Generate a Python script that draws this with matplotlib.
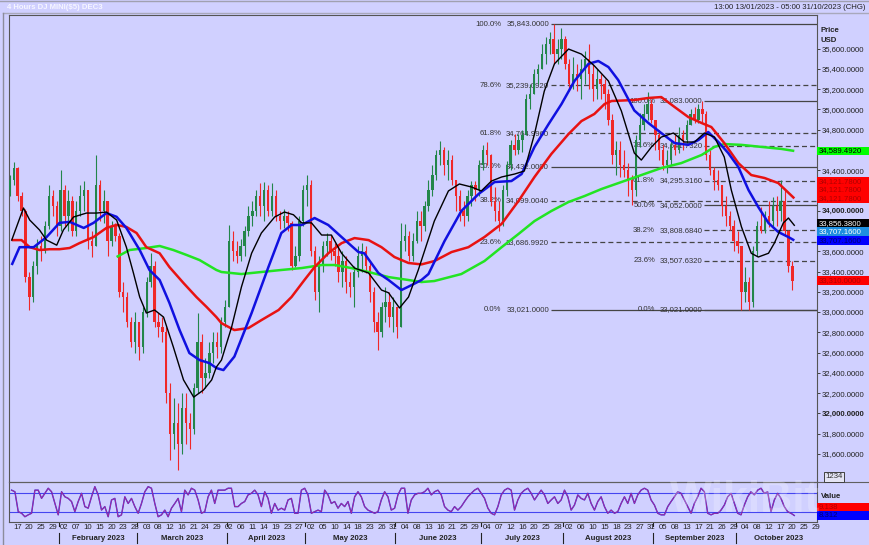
import numpy as np
import matplotlib
matplotlib.use("Agg")
import matplotlib.pyplot as plt
import matplotlib.transforms as mtransforms
from matplotlib.patches import Rectangle
from matplotlib.lines import Line2D

plt.rcParams['font.family'] = ['Liberation Sans', 'DejaVu Sans']

# ---------------- data (daily candles, one per trading day from 13 Jan 2023) ----------------
start_date = '2023-01-13'
first_open = 34200
close = [34300, 34420, 34150, 34000, 33350, 33150, 33450, 33650, 33600, 33850,
         34150, 34050, 33850, 34200, 33950, 34100, 33800, 34000, 34150, 34200,
         33700, 33650, 34250, 34000, 34100, 33700, 33850, 33750, 33200, 33150,
         32900, 32700, 32900, 32650, 33000, 33300, 33450, 32900, 32850, 32800,
         32200, 31800, 31900, 31700, 32050, 31900, 31850, 32250, 32700, 32350,
         32400, 32600, 32700, 32650, 32900, 33050, 33700, 33600, 33550, 33650,
         33800, 33950, 34000, 34150, 34050, 34200, 34000, 34150, 33950, 33900,
         33950, 33880, 33450, 33550, 33900, 34200, 34250, 33600, 33200, 33450,
         33650, 33700, 33600, 33550, 33400, 33500, 33300, 33250, 33400, 33550,
         33600, 33450, 33200, 32900, 32800, 33050, 33100, 32950, 33050, 32850,
         33700, 33750, 33550, 33700, 33900, 33850, 34050, 34200, 34350, 34550,
         34600, 34450, 34500, 34300, 34150, 34000, 33950, 34150, 34250, 34200,
         34450, 34600, 34550, 34100, 34000, 33900, 34200, 34450, 34650, 34600,
         34700, 34750, 35100, 35150, 35350, 35400, 35550, 35650, 35700, 35550,
         35600, 35700, 35450, 35250, 35350, 35300, 35400, 35500, 35350, 35200,
         35300, 35250, 35150, 34900, 34550, 34600, 34450, 34400, 34300, 34200,
         34700, 34850, 34950, 35050, 34900, 34750, 34600, 34450, 34500, 34650,
         34600, 34750, 34700, 34850, 34950, 34900, 35000, 34950, 34550, 34400,
         34300, 34250, 34050, 33950, 33850, 33700, 33650, 33200, 33300, 33100,
         33600, 33850, 33800, 33950, 33900, 34050, 34000, 34100, 33800, 33450,
         33310]
high = [34350, 34480, 34430, 34180, 34020, 33400, 33500, 33720, 33750, 33900,
        34250, 34200, 34100, 34400, 34250, 34200, 34150, 34100, 34250, 34290,
        34200, 33800, 34550, 34300, 34200, 34100, 33900, 33880, 33780, 33300,
        33200, 32950, 33000, 32900, 33050, 33350, 33580, 33500, 32990, 32950,
        32850, 32300, 32150, 32100, 32200, 32200, 32000, 32300, 32990, 32780,
        32550, 32700, 32800, 32800, 32950, 33120, 33860, 33800, 33700, 33720,
        33850, 34050, 34100, 34200, 34273, 34280, 34250, 34270, 34200, 34000,
        34020, 34000, 33900, 33650, 33950, 34250, 34350, 34300, 33650, 33550,
        33700, 33780, 33760, 33680, 33650, 33600, 33550, 33400, 33450, 33650,
        33680, 33650, 33500, 33250, 33000, 33100, 33250, 33200, 33150, 33050,
        33880, 33870, 33800, 33780, 34000, 34000, 34100, 34300, 34450, 34600,
        34690, 34630, 34600, 34550, 34300, 34200, 34100, 34200, 34290, 34290,
        34500, 34650, 34680, 34560, 34230, 34100, 34250, 34490, 34700, 34757,
        34757, 34800, 35150, 35250, 35400, 35450, 35650, 35715, 35760, 35843,
        35700, 35800, 35720, 35500, 35517, 35450, 35500, 35577, 35650, 35450,
        35400, 35350, 35300, 35200, 34950, 34690, 34690, 34600, 34470, 34350,
        34750, 34964, 35050, 35170, 35100, 34900, 34800, 34650, 34600, 34700,
        34750, 34825, 34800, 34900, 35000, 35024, 35050, 35083, 34980, 34600,
        34430, 34400, 34250, 34150, 34000, 33908, 33800, 33650, 33440, 33350,
        33650, 33900, 34036, 34000, 34100, 34135, 34150, 34300, 34200, 33810,
        33500]
low = [34150, 34250, 34100, 33950, 33300, 33020, 33100, 33380, 33500, 33580,
       33820, 33950, 33750, 33800, 33850, 33800, 33750, 33750, 33950, 34000,
       33620, 33540, 33650, 33900, 33880, 33550, 33650, 33700, 33150, 33000,
       32850, 32650, 32600, 32526, 32600, 32950, 33250, 32850, 32750, 32700,
       32100, 31540, 31650, 31440, 31600, 31700, 31650, 31800, 32200, 32200,
       32250, 32350, 32500, 32550, 32600, 32850, 33050, 33500, 33480, 33500,
       33550, 33750, 33850, 33950, 33950, 33900, 33950, 33950, 33900, 33820,
       33830, 33800, 33415, 33440, 33500, 33850, 34050, 33550, 33120, 33000,
       33400, 33550, 33510, 33450, 33300, 33250, 33190, 33150, 33050, 33350,
       33400, 33385, 33100, 32800, 32625, 32750, 32900, 32850, 32800, 32740,
       32850, 33600, 33500, 33500, 33680, 33700, 33800, 34000, 34150, 34300,
       34450, 34350, 34300, 34250, 34000, 33900, 33850, 33900, 34050, 34100,
       34150, 34400, 34450, 34050, 33900, 33800, 33850, 34150, 34400, 34550,
       34560, 34580, 34750, 35000, 35150, 35250, 35400, 35450, 35550, 35450,
       35450, 35500, 35400, 35180, 35200, 35180, 35100, 35250, 35200, 35083,
       35100, 35100, 35000, 34850, 34460, 34350, 34330, 34330, 34150, 34052,
       34150, 34630, 34800, 34900, 34865, 34600, 34500, 34400, 34372, 34450,
       34550, 34570, 34600, 34650, 34850, 34865, 34870, 34880, 34500, 34350,
       34200, 34200, 33950, 33850, 33810, 33600, 33580, 33021, 33100, 33021,
       33050, 33550, 33780, 33780, 33840, 33850, 33850, 33900, 33750, 33400,
       33217]

# moving averages (trading-day index, price)
black_x = [0.5, 3.5, 5.1, 7.6, 9.4, 12.0, 13.7, 16.3, 19.6, 22.2, 24.7, 27.3, 29.8, 31.6, 33.2,
           34.9, 37.0, 39.3, 41.8, 44.4, 47.0, 49.5, 51.6, 52.8, 54.1, 56.7, 59.2, 61.8, 64.3, 67.7,
           70.2, 72.5, 74.6, 77.1, 79.7, 82.2, 84.8, 88.1, 91.7, 95.0, 96.8, 99.6, 101.9, 104.4, 108.5,
           112.1, 114.9, 118.0, 120.5, 123.1, 125.7, 129.0, 131.5, 134.1, 136.6, 139.2, 142.8, 146.1,
           149.4, 153.0, 156.3, 159.6, 161.4, 164.0, 166.5, 169.6, 172.4, 175.0, 177.5, 180.1, 182.6,
           184.4, 187.0, 189.5, 191.3, 193.9, 195.4, 197.7, 199.0, 200.5]
black_v = [33710, 34027, 33908, 33810, 33710, 33660, 33810, 33938, 33977, 33977, 33987, 33908, 33640,
           33385, 33148, 32990, 33020, 32950, 32655, 32330, 32160, 32230, 32330, 32457, 32526, 32852,
           33247, 33580, 33780, 33938, 33987, 33960, 33880, 33880, 33760, 33760, 33580, 33434, 33385,
           33217, 33190, 33040, 33148, 33415, 33898, 34195, 34264, 34234, 34195, 34293, 34333, 34362,
           34392, 34757, 35180, 35450, 35596, 35546, 35430, 35280, 34985, 34570, 34500, 34630, 34727,
           34767, 34678, 34678, 34767, 34727, 34530, 34204, 33840, 33580, 33543, 33580, 33680, 33880,
           33928, 33856]
blue_x = [0.5, 2.5, 6.1, 9.4, 12.7, 15.3, 18.9, 21.4, 24.7, 27.3, 29.8, 33.2, 35.7, 38.3, 40.8, 43.4,
          45.9, 48.5, 51.0, 52.8, 54.6, 57.4, 61.8, 66.1, 69.4, 72.0, 74.6, 77.9, 81.4, 84.8, 89.1,
          90.6, 94.2, 96.8, 100.1, 102.7, 105.2, 107.0, 111.1, 115.4, 119.8, 123.9, 128.2, 130.8, 134.1,
          137.7, 141.0, 144.3, 147.9, 150.4, 153.0, 155.5, 159.6, 163.2, 166.5, 169.9, 173.4, 176.0,
          178.5, 181.1, 183.6, 186.2, 188.8, 191.3, 193.9, 196.4, 199.0, 200.5]
blue_v = [33464, 33640, 33640, 33740, 33880, 33890, 33830, 33880, 33977, 33940, 33830, 33612, 33415,
          33316, 33090, 32822, 32595, 32526, 32496, 32447, 32427, 32560, 32990, 33444, 33780, 33859,
          33859, 33928, 33859, 33740, 33592, 33580, 33385, 33316, 33217, 33266, 33316, 33375, 33700,
          33997, 34165, 34283, 34293, 34362, 34630, 34855, 35053, 35280, 35450, 35478, 35418, 35290,
          34990, 34866, 34767, 34668, 34650, 34698, 34777, 34678, 34570, 34431, 34204, 34036, 33879,
          33790, 33740, 33707]
red_x = [0.5, 3.0, 5.1, 7.6, 10.2, 12.7, 15.3, 17.8, 21.4, 24.7, 27.3, 29.8, 32.4, 34.9, 38.3, 40.8,
         44.4, 47.7, 50.3, 52.8, 54.1, 57.4, 61.0, 64.3, 68.7, 72.0, 75.3, 77.9, 81.4, 84.8, 88.1,
         91.7, 95.0, 98.3, 101.9, 105.2, 108.5, 112.9, 117.2, 121.3, 125.7, 130.0, 134.1, 138.4,
         142.8, 146.1, 149.4, 152.0, 153.8, 159.6, 163.2, 166.5, 169.9, 173.4, 176.8, 179.3, 182.6,
         186.2, 189.5, 192.9, 196.4, 200.5]
red_v = [33710, 33710, 33640, 33612, 33620, 33620, 33632, 33680, 33740, 33830, 33860, 33840, 33780,
         33640, 33580, 33444, 33286, 33148, 33050, 32950, 32890, 32822, 32842, 32920, 33020, 33148,
         33316, 33444, 33580, 33680, 33730, 33710, 33640, 33543, 33484, 33470, 33503, 33592, 33640,
         33740, 33870, 34096, 34333, 34560, 34757, 34885, 34955, 35053, 35083, 35093, 35113, 35122,
         35024, 34925, 34866, 34826, 34668, 34470, 34352, 34323, 34273, 34122]
green_x = [27.3, 30.6, 34.9, 38.3, 41.8, 45.2, 48.5, 52.8, 54.1, 59.2, 64.3, 69.4, 74.6, 79.7, 83.0,
           87.3, 91.7, 96.8, 101.9, 105.2, 108.5, 115.4, 121.3, 125.7, 130.0, 134.1, 138.4, 142.8,
           146.9, 151.2, 156.3, 161.4, 166.5, 171.6, 176.8, 180.1, 182.6, 187.0, 192.1, 197.2, 200.5]
green_v = [33543, 33612, 33632, 33652, 33612, 33563, 33513, 33415, 33395, 33375, 33395, 33415, 33434,
           33464, 33464, 33434, 33395, 33345, 33316, 33296, 33306, 33375, 33503, 33640, 33770, 33898,
           33997, 34086, 34145, 34214, 34283, 34352, 34421, 34470, 34550, 34630, 34658, 34650, 34630,
           34610, 34590]

# oscillator (evenly spaced samples from first to last bar)
osc_first, osc_last = 0.46, 200.5
osc = [89, 84, 21, 16, 5, 11, 16, 89, 89, 63,
       79, 95, 84, 47, 11, 84, 68, 63, 53, 21,
       53, 79, 37, 32, 68, 100, 74, 26, 37, 5,
       58, 63, 5, 11, 68, 47, 63, 37, 16, 47,
       84, 100, 95, 47, 5, 11, 26, 5, 32, 47,
       63, 21, 89, 74, 95, 89, 58, 16, 21, 68,
       89, 47, 89, 89, 89, 95, 95, 37, 37, 47,
       53, 74, 79, 89, 74, 37, 84, 63, 16, 47,
       26, 32, 26, 58, 63, 16, 16, 89, 95, 74,
       16, 21, 26, 21, 89, 74, 47, 53, 32, 47,
       37, 53, 16, 68, 84, 68, 37, 26, 21, 16,
       21, 58, 84, 68, 26, 32, 74, 95, 95, 16,
       58, 74, 79, 79, 84, 95, 74,
       84, 89, 74, 37, 26, 21, 37, 26, 37, 53,
       68, 79, 89, 95, 79, 63, 32, 16, 11, 37,
       74, 89, 95, 89, 26, 58, 79, 89, 95, 79,
       58, 74, 89, 74, 47, 58, 68, 47, 58, 89,
       68, 26, 42, 74, 63, 58, 79, 47, 26, 53,
       68, 37, 16, 26, 16, 21, 47, 68, 47, 79,
       47, 74, 89, 95, 89, 58, 42, 16, 11, 11,
       37, 53, 68, 84, 79, 58, 37, 16, 47, 68,
       95, 84, 16, 11, 16, 16, 26, 42, 68, 79,
       47, 16, 11, 42, 68, 84, 74, 89, 95, 79,
       84, 21, 58, 79, 63, 37, 21, 16, 9]
osc_levels = [80, 20]

# Fibonacci retracements
fib_pct = ['100.0%', '78.6%', '61.8%', '50.0%', '38.2%', '23.6%', '0.0%']
fib_solid = [True, False, False, True, False, False, True]
fib1_vals = [35843.0, 35239.092, 34764.996, 34432.0, 34099.004, 33686.992, 33021.0]
fib2_vals = [35083.0, 34641.732, 34295.316, 34052.0, 33808.684, 33507.632, 33021.0]
fib1_anchor, fib2_anchor = 138.2, 177.4

# axis labels
price_ticks = list(range(31600, 35601, 200))
price_ticks_hidden = [34600, 34200, 33800]     # covered by the value boxes
price_ticks_bold = [34000, 32000]
day_ticks = ['2023-01-17', '2023-01-20', '2023-01-25', '2023-01-29',
             '2023-02-02', '2023-02-07', '2023-02-10', '2023-02-15', '2023-02-20', '2023-02-23', '2023-02-28',
             '2023-03-03', '2023-03-08', '2023-03-12', '2023-03-16', '2023-03-21', '2023-03-24', '2023-03-29',
             '2023-04-02', '2023-04-06', '2023-04-11', '2023-04-14', '2023-04-19', '2023-04-23', '2023-04-27',
             '2023-05-02', '2023-05-05', '2023-05-10', '2023-05-14', '2023-05-18', '2023-05-23', '2023-05-26',
             '2023-05-31',
             '2023-06-04', '2023-06-08', '2023-06-13', '2023-06-16', '2023-06-21', '2023-06-25', '2023-06-29',
             '2023-07-04', '2023-07-07', '2023-07-12', '2023-07-16', '2023-07-20', '2023-07-25', '2023-07-28',
             '2023-08-02', '2023-08-06', '2023-08-10', '2023-08-15', '2023-08-18', '2023-08-23', '2023-08-27',
             '2023-08-31',
             '2023-09-05', '2023-09-08', '2023-09-13', '2023-09-17', '2023-09-21', '2023-09-26', '2023-09-29',
             '2023-10-04', '2023-10-08', '2023-10-12', '2023-10-17', '2023-10-20', '2023-10-25', '2023-10-29']
month_names = ['February 2023', 'March 2023', 'April 2023', 'May 2023', 'June 2023',
               'July 2023', 'August 2023', 'September 2023', 'October 2023']
month_starts = ['2023-02-01', '2023-03-01', '2023-04-01', '2023-05-01', '2023-06-01',
                '2023-07-01', '2023-08-01', '2023-09-01', '2023-10-01', '2023-11-01']

box_green = 34589.492
box_red_ma = 34121.78
box_black = 33856.38
box_blue = 33707.16
box_last = 33310.0
osc_last_k, osc_last_d = 8.312, 9.138

# ---------------- figure ----------------
W, H = 870, 545
BG = '#D0D0FF'
FS = 5.6
TXT = '#222222'
GREEN_C = '#23864A'
RED_C = '#F02828'

fig = plt.figure(figsize=(W / 100, H / 100), dpi=100)
fig.patch.set_facecolor(BG)


def fx(px):
    return px / W


def fy(py):
    return 1 - py / H


ax = fig.add_axes([fx(9), fy(481), fx(817) - fx(9), fy(15) - fy(481)])
axo = fig.add_axes([fx(9), fy(522), fx(817) - fx(9), fy(482) - fy(522)])
XL = (-0.2, 206.3)
YL = (31332, 35932)
OL = (-11.6, 114.7)
for a in (ax, axo):
    a.set_facecolor(BG)
    a.set_xlim(*XL)
    for s in a.spines.values():
        s.set_color('#555555')
        s.set_linewidth(0.8)
ax.set_ylim(*YL)
axo.set_ylim(*OL)
ax.spines['bottom'].set_visible(False)

# candles
c = np.array(close, float)
o = np.array([first_open] + close[:-1], float)
h = np.array(high, float)
l = np.array(low, float)
x = np.arange(len(c))
col = np.where(c >= o, GREEN_C, RED_C)
ax.vlines(x, l, h, colors=col, linewidth=0.8, zorder=3)
ax.bar(x, np.maximum(np.abs(c - o), 10), bottom=np.minimum(o, c), width=0.6,
       color=col, linewidth=0, zorder=3)

# moving averages
ax.plot(green_x, green_v, color='#22E422', lw=1.8, zorder=4, solid_capstyle='butt')
ax.plot(red_x, red_v, color='#E81212', lw=1.8, zorder=4, solid_capstyle='butt')
ax.plot(blue_x, blue_v, color='#1010E0', lw=1.8, zorder=5, solid_capstyle='butt')
ax.plot(black_x, black_v, color='black', lw=1.0, zorder=6)

# fibonacci
for vals, anchor in ((fib1_vals, fib1_anchor), (fib2_vals, fib2_anchor)):
    for pct, v, solid in zip(fib_pct, vals, fib_solid):
        ax.hlines(v, anchor, XL[1], colors='#454545', lw=0.9,
                  linestyles='-' if solid else (0, (4, 2.5)), zorder=2)
        ax.annotate(f'{v:,.4f}', (anchor, v), xytext=(-1.1, 0), textcoords='offset points',
                    ha='right', va='center', fontsize=FS, color='#333333', zorder=2)
        ax.annotate(pct, (anchor, v), xytext=(-35.3, 0), textcoords='offset points',
                    ha='right', va='center', fontsize=FS, color='#333333', zorder=2)

# right price axis
ax.yaxis.tick_right()
ax.set_yticks(price_ticks)
labs = ax.set_yticklabels(['' if v in price_ticks_hidden else f'{v:,.4f}' for v in price_ticks])
for t, v in zip(labs, price_ticks):
    if v in price_ticks_bold:
        t.set_fontweight('bold')
ax.tick_params(axis='y', right=True, left=False, length=2.5, width=0.7, pad=1.0,
               labelsize=FS, labelcolor=TXT, color='#404040')
ax.tick_params(axis='x', bottom=False, labelbottom=False)

# value boxes
bw = (869 - 817) / (817 - 9)
bt = mtransforms.blended_transform_factory(ax.transAxes, ax.transData)
bto = mtransforms.blended_transform_factory(axo.transAxes, axo.transData)
bh = 8.6 / ((481 - 15) / (YL[1] - YL[0]))
bho = 8.6 / ((522 - 482) / (OL[1] - OL[0]))


def vbox(axis, trans, yc, hh, text, fc, tc):
    axis.add_patch(Rectangle((1.0, yc - hh / 2), bw, hh, transform=trans, facecolor=fc,
                             edgecolor='none', clip_on=False, zorder=20))
    axis.text(1.0 + 2.0 / 808, yc, text, transform=trans, ha='left', va='center',
              fontsize=FS, color=tc, clip_on=False, zorder=21)


vbox(ax, bt, box_green, bh, f'{box_green:,.4f}', '#00FF00', 'black')
for k in range(3):
    vbox(ax, bt, box_red_ma + k * bh, bh, f'{box_red_ma:,.4f}', '#FF0000', '#B00000')
vbox(ax, bt, box_blue, bh, f'{box_blue:,.4f}', '#0000FF', '#000070')
vbox(ax, bt, box_blue + bh, bh, f'{box_blue:,.4f}', '#1E8FE0', 'white')
vbox(ax, bt, box_blue + 2 * bh, bh, f'{box_black:,.4f}', '#000000', 'white')
vbox(ax, bt, box_last, bh, f'{box_last:,.4f}', '#FF0000', '#B00000')

# oscillator
osc_x = np.linspace(osc_first, osc_last, len(osc))
for lv in osc_levels:
    axo.axhline(lv, color='#4545F0', lw=0.8, zorder=2)
axo.plot(osc_x, osc, color='#2525E0', lw=1.0, zorder=3)
axo.plot(osc_x, osc, color='#E0307A', lw=0.6, alpha=0.75, zorder=4)
axo.set_yticks([])
axo.tick_params(axis='x', bottom=False, labelbottom=False)
vbox(axo, bto, osc_last_k, bho, f'{osc_last_k:.3f}', '#0000FF', '#000070')
vbox(axo, bto, osc_last_k + bho, bho, f'{osc_last_d:.3f}', '#FF0000', '#B00000')

# date axis
tr = mtransforms.blended_transform_factory(axo.transData, axo.transAxes)
tick_idx = np.busday_count(start_date, day_ticks)
for i, d in zip(tick_idx, day_ticks):
    axo.text(i, -0.13, d[-2:], transform=tr, ha='center', va='center', fontsize=FS,
             color=TXT, clip_on=False)
ms = np.busday_count(start_date, month_starts)
for k, name in enumerate(month_names):
    a, b = ms[k], ms[k + 1]
    axo.text((a + b) / 2 - 0.5, -0.40, name, transform=tr, ha='center', va='center',
             fontsize=FS, fontweight='bold', color=TXT, clip_on=False)
    axo.plot([a - 0.5, a - 0.5], [-0.28, -0.53], transform=tr, color=TXT, lw=0.8, clip_on=False)
    axo.plot([a - 0.5, a - 0.5], [-0.02, -0.09], transform=tr, color=TXT, lw=0.8, clip_on=False)

# frame lines
fig.add_artist(Line2D([0, 1], [fy(0.5), fy(0.5)], color='#A0A0B0', lw=1.0))
fig.add_artist(Line2D([fx(3), 1], [fy(12.5), fy(12.5)], color='#A8A8BC', lw=1.0))
fig.add_artist(Line2D([fx(3), fx(3)], [fy(12.5), 0], color='#8C8C9C', lw=1.0))
fig.add_artist(Line2D([fx(9), 1], [fy(481.5), fy(481.5)], color='#606060', lw=0.8))

# texts
fig.text(fx(7), fy(7.5), '4 Hours DJ MINI($5) DEC3', color='#F6F6FF', fontweight='bold',
         fontsize=FS, ha='left', va='center')
fig.text(fx(866), fy(7.5), '13:00 13/01/2023 - 05:00 31/10/2023 (CHG)', color=TXT,
         fontsize=FS, ha='right', va='center')
fig.text(fx(821), fy(31), 'Price', color=TXT, fontsize=FS, fontweight='bold', ha='left', va='center')
fig.text(fx(821), fy(41), 'USD', color=TXT, fontsize=FS, fontweight='bold', ha='left', va='center')
fig.text(fx(821), fy(497), 'Value', color=TXT, fontsize=FS, fontweight='bold', ha='left', va='center')
fig.text(fx(834), fy(477), '1234', color='#333333', fontsize=FS, ha='center', va='center',
         bbox=dict(boxstyle='square,pad=0.15', fc='#E4E4F4', ec='#404040', lw=0.7))
fig.text(fx(745), fy(500), 'WikiBit', color='white', alpha=0.22, fontsize=32,
         fontweight='bold', ha='center', va='center')

fig.savefig('out.png', dpi=100, facecolor=BG)
